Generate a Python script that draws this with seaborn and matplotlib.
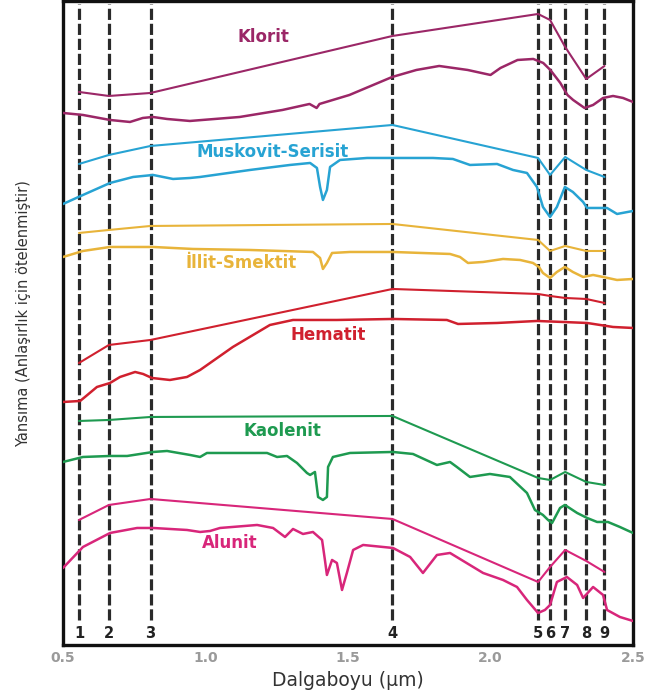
import numpy as np
import pandas as pd
import seaborn as sns
import matplotlib.pyplot as plt
from matplotlib.ticker import MultipleLocator

# ASTER band centres (um) and their numbers
band_wl = [0.556, 0.661, 0.807, 1.656, 2.167, 2.209, 2.262, 2.336, 2.400]
band_names = ["1", "2", "3", "4", "5", "6", "7", "8", "9"]

# ASTER-resampled spectra (offset for clarity)
klorit_aster = [5.53, 5.49, 5.52, 6.09, 6.31, 6.25, 5.98, 5.66, 5.79]
muskovit_aster = [4.81, 4.90, 4.99, 5.20, 4.87, 4.70, 4.88, 4.75, 4.68]
illit_aster = [4.12, 4.15, 4.19, 4.21, 4.05, 3.94, 3.99, 3.94, 3.94]
hematit_aster = [2.82, 3.00, 3.05, 3.56, 3.51, 3.49, 3.47, 3.46, 3.42]
kaolenit_aster = [2.24, 2.25, 2.28, 2.29, 1.67, 1.65, 1.73, 1.63, 1.60]
alunit_aster = [1.25, 1.40, 1.46, 1.26, 0.63, 0.78, 0.95, 0.84, 0.73]

# laboratory spectra
klorit_wl = [0.50, 0.57, 0.665, 0.735, 0.78, 0.815, 0.865, 0.945, 1.12, 1.27, 1.365, 1.39, 1.40,
             1.505, 1.655, 1.74, 1.82, 1.92, 2.0, 2.035, 2.095, 2.15, 2.185, 2.21, 2.245, 2.27,
             2.29, 2.33, 2.36, 2.395, 2.43, 2.465, 2.5]
klorit_lab = [5.32, 5.30, 5.25, 5.23, 5.27, 5.28, 5.26, 5.24, 5.28, 5.35, 5.41, 5.37, 5.41,
              5.50, 5.68, 5.75, 5.79, 5.75, 5.70, 5.77, 5.85, 5.86, 5.82, 5.75, 5.62, 5.50,
              5.45, 5.37, 5.40, 5.47, 5.49, 5.47, 5.43]

muskovit_wl = [0.5, 0.57, 0.665, 0.746, 0.816, 0.886, 0.946, 0.981, 1.156, 1.296, 1.367, 1.391,
               1.402, 1.412, 1.426, 1.437, 1.472, 1.567, 1.658, 1.798, 1.868, 1.928, 2.023,
               2.079, 2.128, 2.163, 2.184, 2.209, 2.233, 2.261, 2.289, 2.325, 2.339, 2.374,
               2.409, 2.444, 2.5]
muskovit_lab = [4.41, 4.50, 4.62, 4.68, 4.70, 4.66, 4.67, 4.68, 4.75, 4.80, 4.82, 4.77,
                4.58, 4.45, 4.55, 4.78, 4.85, 4.87, 4.87, 4.87, 4.86, 4.80, 4.81,
                4.75, 4.72, 4.58, 4.38, 4.28, 4.38, 4.58, 4.53, 4.43, 4.37, 4.37,
                4.37, 4.31, 4.34]

illit_wl = [0.5, 0.57, 0.665, 0.816, 0.956, 1.156, 1.377, 1.402, 1.412, 1.426, 1.444, 1.507,
            1.658, 1.858, 1.893, 1.921, 1.974, 2.044, 2.104, 2.149, 2.170, 2.184, 2.209,
            2.233, 2.261, 2.289, 2.325, 2.36, 2.395, 2.444, 2.5]
illit_lab = [3.88, 3.94, 3.98, 3.98, 3.96, 3.95, 3.93, 3.87, 3.76, 3.82, 3.92, 3.93,
             3.93, 3.91, 3.88, 3.82, 3.83, 3.86, 3.85, 3.82, 3.78, 3.72, 3.67,
             3.73, 3.78, 3.73, 3.68, 3.70, 3.68, 3.65, 3.66]

hematit_wl = [0.5, 0.56, 0.577, 0.619, 0.665, 0.7, 0.753, 0.781, 0.812, 0.875, 0.935, 0.981,
              1.096, 1.226, 1.307, 1.461, 1.658, 1.847, 1.886, 2.023, 2.163, 2.254, 2.339,
              2.43, 2.5]
hematit_lab = [2.43, 2.44, 2.48, 2.58, 2.62, 2.68, 2.73, 2.71, 2.67, 2.65, 2.68, 2.75,
               2.98, 3.20, 3.25, 3.25, 3.26, 3.25, 3.21, 3.22, 3.24, 3.23, 3.22,
               3.18, 3.17]

kaolenit_wl = [0.5, 0.57, 0.665, 0.725, 0.816, 0.865, 0.946, 0.981, 1.005, 1.216, 1.251, 1.286,
               1.321, 1.356, 1.367, 1.384, 1.395, 1.412, 1.426, 1.43, 1.447, 1.507, 1.658,
               1.728, 1.812, 1.858, 1.882, 1.928, 1.998, 2.068, 2.128, 2.156, 2.184, 2.202,
               2.216, 2.244, 2.261, 2.304, 2.339, 2.374, 2.412, 2.454, 2.5]
kaolenit_lab = [1.83, 1.88, 1.89, 1.89, 1.93, 1.94, 1.90, 1.88, 1.92, 1.92, 1.88, 1.89,
                1.82, 1.72, 1.70, 1.73, 1.48, 1.45, 1.48, 1.78, 1.88, 1.92, 1.93,
                1.91, 1.80, 1.83, 1.78, 1.68, 1.71, 1.68, 1.52, 1.35, 1.30, 1.25,
                1.22, 1.37, 1.40, 1.32, 1.27, 1.23, 1.23, 1.18, 1.12]

alunit_wl = [0.5, 0.57, 0.665, 0.76, 0.816, 0.935, 0.981, 1.016, 1.051, 1.181, 1.237, 1.279,
             1.307, 1.342, 1.377, 1.409, 1.419, 1.426, 1.444, 1.461, 1.479, 1.496, 1.518,
             1.553, 1.658, 1.718, 1.763, 1.812, 1.858, 1.974, 2.044, 2.093, 2.128, 2.167,
             2.191, 2.209, 2.233, 2.268, 2.304, 2.325, 2.36, 2.395, 2.409, 2.454, 2.5]
alunit_lab = [0.77, 0.98, 1.12, 1.17, 1.17, 1.15, 1.13, 1.14, 1.17, 1.20, 1.17, 1.08,
              1.16, 1.11, 1.13, 1.05, 0.85, 0.70, 0.85, 0.82, 0.55, 0.72, 0.95,
              1.00, 0.97, 0.88, 0.72, 0.90, 0.92, 0.72, 0.65, 0.58, 0.45, 0.32,
              0.35, 0.40, 0.63, 0.68, 0.60, 0.47, 0.58, 0.50, 0.35, 0.28, 0.24]

minerals = ["Klorit", "Muskovit-Serisit", "İllit-Smektit", "Hematit", "Kaolenit", "Alunit"]
colors = ["#9b2767", "#27a3d3", "#e8b43a", "#d0202e", "#1e9a50", "#d8267a"]
aster_sets = [klorit_aster, muskovit_aster, illit_aster, hematit_aster, kaolenit_aster, alunit_aster]
lab_sets = [(klorit_wl, klorit_lab), (muskovit_wl, muskovit_lab), (illit_wl, illit_lab),
            (hematit_wl, hematit_lab), (kaolenit_wl, kaolenit_lab), (alunit_wl, alunit_lab)]
label_pos = [(1.205, 6.08), (1.235, 4.93), (1.125, 3.82), (1.43, 3.10), (1.27, 2.14), (1.085, 1.02)]

sns.set_style("white")

fig = plt.figure(figsize=(6.64, 6.93), dpi=100)
ax = fig.add_axes([0.0949, 0.0693, 0.8584, 0.9293])

# dashed ASTER band positions
ax.vlines(band_wl, 0.25, 6.41, colors="#2a2a2a", linestyles=(0, (3.5, 1.2)), linewidth=2.3, zorder=1)
for wl, name in zip(band_wl, band_names):
    ax.text(wl, 0.04, name, ha="center", va="bottom", fontsize=10.5, fontweight="bold", color="#222222")

for name, col, aster, (lwl, lval), (tx, ty) in zip(minerals, colors, aster_sets, lab_sets, label_pos):
    df_a = pd.DataFrame({"wl": band_wl, "y": aster})
    df_l = pd.DataFrame({"wl": lwl, "y": lval})
    sns.lineplot(data=df_a, x="wl", y="y", color=col, linewidth=1.5, ax=ax, estimator=None, sort=False, zorder=3)
    sns.lineplot(data=df_l, x="wl", y="y", color=col, linewidth=1.8, ax=ax, estimator=None, sort=False, zorder=3)
    ax.text(tx, ty, name, ha="center", va="center", fontsize=12, fontweight="bold", color=col, zorder=4)

ax.set_xlim(0.5, 2.5)
ax.set_ylim(0, 6.44)
ax.set_xticks([0.5, 1.0, 1.5, 2.0, 2.5])
ax.set_xticklabels(["0.5", "1.0", "1.5", "2.0", "2.5"])
ax.xaxis.set_minor_locator(MultipleLocator(0.1))
ax.set_yticks(np.arange(0.14, 6.3, 0.372))
ax.set_yticklabels([])
ax.tick_params(axis="x", which="major", direction="in", length=8, width=2, colors="#1a1a1a",
               labelcolor="#9a9a9a", labelsize=10, pad=4)
ax.tick_params(axis="x", which="minor", direction="in", length=4, width=1.6, colors="#1a1a1a")
ax.tick_params(axis="y", which="major", direction="in", length=6, width=1.6, colors="#1a1a1a")
for lab in ax.get_xticklabels():
    lab.set_fontweight("bold")
for sp in ax.spines.values():
    sp.set_visible(True)
    sp.set_color("#111111")
    sp.set_linewidth(2.4)

ax.set_xlabel("Dalgaboyu (µm)", fontsize=13.5, color="#333333")
ax.xaxis.set_label_coords(0.5, -0.041)
ax.set_ylabel("Yansıma (Anlaşırlık için ötelenmiştir)", fontsize=10.5, color="#333333")
ax.yaxis.set_label_coords(-0.056, 0.515)

plt.savefig("out.png", dpi=100)
